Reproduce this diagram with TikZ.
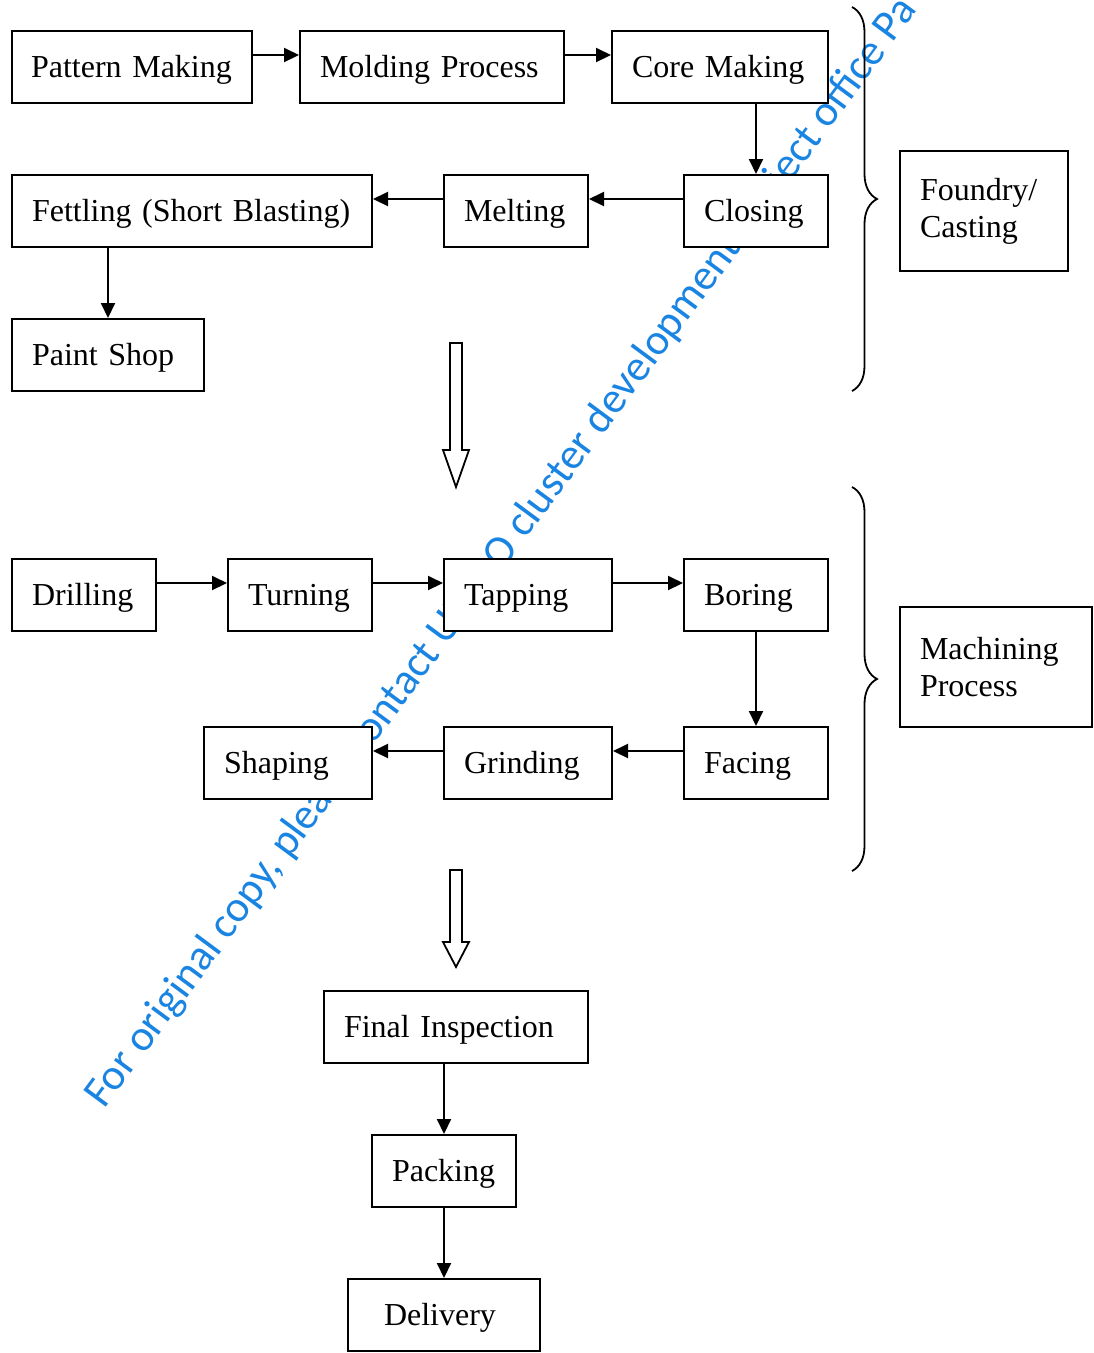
\documentclass[tikz,border=0pt]{standalone}
\usepackage{fontspec}
\setmainfont{Liberation Serif}
\newfontfamily\wmfont{Carlito}
\usetikzlibrary{arrows.meta,decorations.pathreplacing}
\definecolor{wmblue}{RGB}{25,132,226}
\newcommand{\boxfont}{\fontsize{32}{37}\selectfont\hyphenpenalty=10000\exhyphenpenalty=10000}
\begin{document}
\begin{tikzpicture}[x=1pt,y=-1pt,
  box/.style={draw, line width=2pt, fill=white, font=\boxfont, align=left,
              inner xsep=20pt, inner ysep=0pt, minimum height=72pt},
  one/.style={box, text height=28pt, text depth=7pt},
  conn/.style={line width=2pt, -{Triangle[length=15pt,width=14pt]}},
  hollow/.style={line width=1.8pt, fill=white, line join=miter},
  bracestyle/.style={line width=1.8pt, decorate, decoration={brace, amplitude=25pt}}]
\useasboundingbox (0,0) rectangle (1094,1353);
\clip (0,0) rectangle (1094,1353);
% watermark
\node[rotate=53.5, anchor=base west, font=\wmfont\fontsize{43.6}{48}\selectfont, text=wmblue, inner sep=0pt] (wm) at (104,1110)
  {For original copy, please contact UNIDO cluster development project office Pa};
% foundry
\node[one, text width=202pt, inner xsep=19pt] (pm) at (132,67) {\mbox{Pattern Making}};
\node[one, text width=224pt] (mp) at (432,67) {\mbox{Molding Process}};
\node[one, text width=176pt] (cm) at (720,67) {\mbox{Core Making}};
\node[one, text width=320pt] (fe) at (192,211) {\mbox{Fettling (Short Blasting)}};
\node[one, text width=104pt] (me) at (516,211) {\mbox{Melting}};
\node[one, text width=104pt] (cl) at (756,211) {\mbox{Closing}};
\node[one, text width=152pt] (ps) at (108,355) {\mbox{Paint Shop}};
\node[box, text width=128pt, minimum height=120pt] (fc) at (984,211) {Foundry/\\Casting};
% machining
\node[one, text width=104pt] (dr) at (84,595) {\mbox{Drilling}};
\node[one, text width=104pt] (tu) at (300,595) {\mbox{Turning}};
\node[one, text width=128pt] (ta) at (528,595) {\mbox{Tapping}};
\node[one, text width=104pt] (bo) at (756,595) {\mbox{Boring}};
\node[one, text width=128pt] (sh) at (288,763) {\mbox{Shaping}};
\node[one, text width=128pt] (gr) at (528,763) {\mbox{Grinding}};
\node[one, text width=104pt] (fa) at (756,763) {\mbox{Facing}};
\node[box, text width=152pt, minimum height=120pt] (mc) at (996,667) {Machining\\Process};
% final
\node[one, text width=224pt] (fi) at (456,1027) {\mbox{Final Inspection}};
\node[one, text width=104pt] (pk) at (444,1171) {\mbox{Packing}};
\node[one, text width=120pt, inner xsep=36pt] (de) at (444,1315) {\mbox{Delivery}};
% connectors
\draw[conn] ([yshift=12pt]pm.east) -- ([yshift=12pt]mp.west);
\draw[conn] ([yshift=12pt]mp.east) -- ([yshift=12pt]cm.west);
\draw[conn] (cm.south -| cl.north) -- (cl.north);
\draw[conn] ([yshift=12pt]cl.west) -- ([yshift=12pt]me.east);
\draw[conn] ([yshift=12pt]me.west) -- ([yshift=12pt]fe.east);
\draw[conn] (fe.south -| ps.north) -- (ps.north);
\draw[conn] ([yshift=12pt]dr.east) -- ([yshift=12pt]tu.west);
\draw[conn] ([yshift=12pt]tu.east) -- ([yshift=12pt]ta.west);
\draw[conn] ([yshift=12pt]ta.east) -- ([yshift=12pt]bo.west);
\draw[conn] (bo.south) -- (fa.north);
\draw[conn] ([yshift=12pt]fa.west) -- ([yshift=12pt]gr.east);
\draw[conn] ([yshift=12pt]gr.west) -- ([yshift=12pt]sh.east);
\draw[conn] (fi.south -| pk.north) -- (pk.north);
\draw[conn] (pk.south) -- (de.north);
% hollow arrows
\draw[hollow] (450,343) -- (462,343) -- (462,450) -- (469,450) -- (456,487) -- (443,450) -- (450,450) -- cycle;
\draw[hollow] (450,870) -- (462,870) -- (462,942) -- (469,942) -- (456,967) -- (443,942) -- (450,942) -- cycle;
% braces
\draw[bracestyle] (852,7) -- (852,391);
\draw[bracestyle] (852,487) -- (852,871);
\end{tikzpicture}
\end{document}
